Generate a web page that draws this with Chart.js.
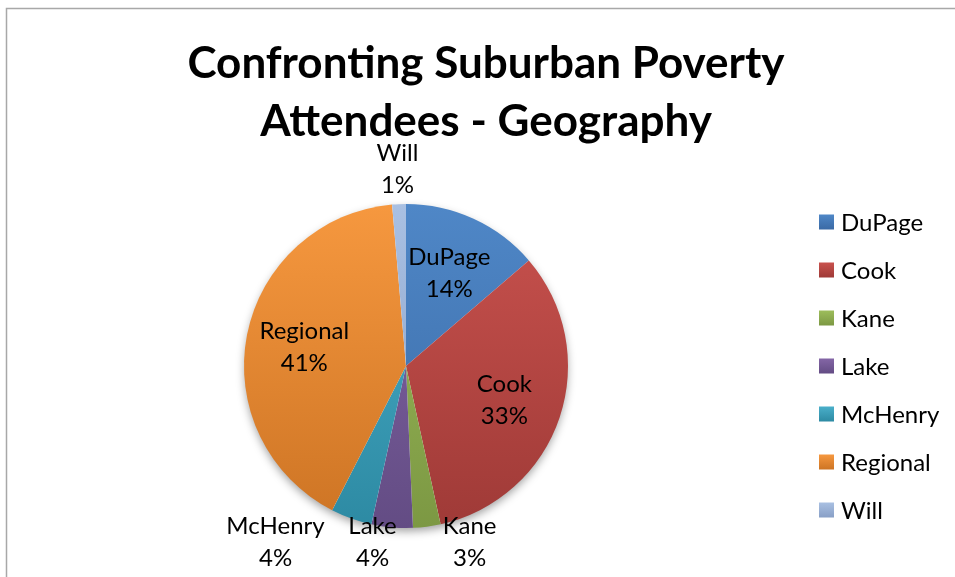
<!DOCTYPE html>
<html>
<head>
<meta charset="utf-8">
<script src="https://cdn.jsdelivr.net/npm/chart.js@4.4.1/dist/chart.umd.min.js"></script>
<style>
  html, body { margin: 0; padding: 0; background: #fff; }
  #wrap { position: relative; width: 955px; height: 577px; }
</style>
</head>
<body>
<div id="wrap"><canvas id="geoChart" width="955" height="577"></canvas></div>
<script>
// chart data (attendee counts, labels show the rounded share)
const titleLines = ['Confronting Suburban Poverty', 'Attendees - Geography'];
const categories = ['DuPage', 'Cook', 'Kane', 'Lake', 'McHenry', 'Regional', 'Will'];
const attendees = [10, 24, 2, 3, 3, 30, 1];

// slice colours, light at the top of the pie, dark at the bottom
const lightColors = ['#4f87c7', '#c9524e', '#9dbd5b', '#8466a6', '#4aafca', '#f6983f', '#a9c0e2'];
const darkColors  = ['#3a6aa5', '#9f3a37', '#7c9843', '#634c84', '#2d8aa3', '#cd7424', '#889fc6'];

const FONT = 'Lato, "Open Sans", sans-serif';

function sliceFill(context) {
    const i = context.dataIndex;
    const area = context.chart.chartArea;
    if (!area) return lightColors[i];
    const g = context.chart.ctx.createLinearGradient(0, area.top, 0, area.bottom);
    g.addColorStop(0, lightColors[i]);
    g.addColorStop(1, darkColors[i]);
    return g;
}

const framePlugin = {
    id: 'frame',
    beforeDraw(chart) {
        const ctx = chart.ctx;
        ctx.save();
        ctx.fillStyle = '#fff';
        ctx.fillRect(0, 0, chart.width, chart.height);
        ctx.strokeStyle = '#a8a8a8';
        ctx.lineWidth = 1.5;
        ctx.beginPath();
        ctx.moveTo(6.5, chart.height);
        ctx.lineTo(6.5, 8.5);
        ctx.lineTo(chart.width, 8.5);
        ctx.stroke();
        ctx.restore();
    }
};

// soft shadow under the whole pie
const shadowPlugin = {
    id: 'pieShadow',
    beforeDatasetsDraw(chart) {
        const arc = chart.getDatasetMeta(0).data[0];
        if (!arc) return;
        const ctx = chart.ctx;
        ctx.save();
        ctx.shadowColor = 'rgba(0,0,0,0.4)';
        ctx.shadowBlur = 10;
        ctx.shadowOffsetY = 4;
        ctx.fillStyle = '#fff';
        ctx.beginPath();
        ctx.arc(arc.x, arc.y, arc.outerRadius - 1, 0, Math.PI * 2);
        ctx.fill();
        ctx.restore();
    }
};

const labelPlugin = {
    id: 'sliceLabels',
    afterDatasetsDraw(chart) {
        const ctx = chart.ctx;
        const meta = chart.getDatasetMeta(0);
        const total = attendees.reduce((a, b) => a + b, 0);
        const items = meta.data.map((arc, i) => {
            const mid = (arc.startAngle + arc.endAngle) / 2;
            const inside = attendees[i] / total >= 0.1;
            const dist = inside ? arc.outerRadius * 0.64 : arc.outerRadius + 36;
            return {
                i: i,
                inside: inside,
                below: !inside && Math.sin(mid) > 0,
                x: arc.x + Math.cos(mid) * dist,
                y: arc.y + Math.sin(mid) * dist
            };
        });

        // small slices at the bottom go on one row, spread apart
        const maxY = chart.height - 36;
        const row = items.filter(p => p.below).sort((a, b) => a.x - b.x);
        if (row.length) {
            const gap = 97;
            const mean = row.reduce((s, p) => s + p.x, 0) / row.length - 14;
            row.forEach((p, k) => {
                p.x = mean + (k - (row.length - 1) / 2) * gap;
                p.y = Math.min(p.y, maxY);
            });
        }

        ctx.save();
        ctx.fillStyle = '#000';
        ctx.font = '24px ' + FONT;
        ctx.textAlign = 'center';
        ctx.textBaseline = 'middle';
        items.forEach(p => {
            const pct = Math.round(attendees[p.i] / total * 100) + '%';
            ctx.fillText(categories[p.i], p.x, p.y - 15);
            ctx.fillText(pct, p.x, p.y + 17);
        });
        ctx.restore();
    }
};

const textPlugin = {
    id: 'titleLegend',
    afterDraw(chart) {
        const ctx = chart.ctx;
        ctx.save();
        ctx.fillStyle = '#000';
        ctx.textAlign = 'center';
        ctx.textBaseline = 'alphabetic';
        ctx.font = 'bold 44px ' + FONT;
        titleLines.forEach((t, i) => ctx.fillText(t, 486, 78 + i * 58));

        ctx.font = '24px ' + FONT;
        ctx.textAlign = 'left';
        ctx.textBaseline = 'middle';
        categories.forEach((c, i) => {
            const y = 222 + i * 48;
            const g = ctx.createLinearGradient(0, y - 7.5, 0, y + 7.5);
            g.addColorStop(0, lightColors[i]);
            g.addColorStop(1, darkColors[i]);
            ctx.fillStyle = g;
            ctx.fillRect(819, y - 7.5, 15, 15);
            ctx.fillStyle = '#000';
            ctx.fillText(c, 841, y + 1);
        });
        ctx.restore();
    }
};

new Chart(document.getElementById('geoChart').getContext('2d'), {
    type: 'pie',
    data: {
        labels: categories,
        datasets: [{
            data: attendees,
            backgroundColor: sliceFill,
            borderWidth: 0
        }]
    },
    options: {
        responsive: false,
        animation: false,
        layout: {
            padding: { left: 244, top: 204, right: 387, bottom: 49 }
        },
        plugins: {
            legend: { display: false },
            title: { display: false },
            tooltip: { enabled: false }
        }
    },
    plugins: [framePlugin, shadowPlugin, labelPlugin, textPlugin]
});
</script>
</body>
</html>
